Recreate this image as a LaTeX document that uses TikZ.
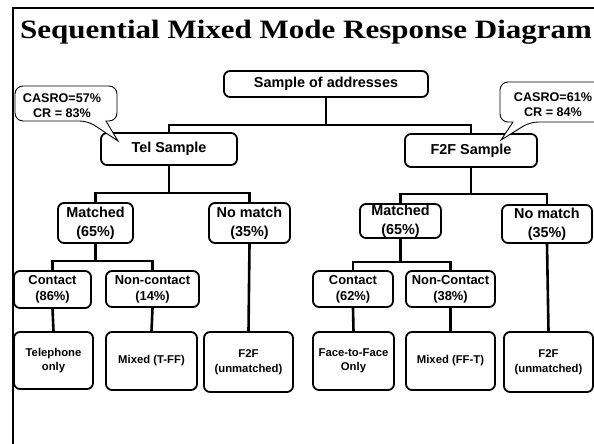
\documentclass[tikz,border=0pt]{standalone}
\usepackage{fontspec}
\setmainfont{Liberation Sans}
\newfontfamily\titlefont{Liberation Serif}
\usetikzlibrary{calc}
\begin{document}
\begin{tikzpicture}[x=1pt,y=-1pt,
  box/.style={draw, line width=1.8pt, rounded corners=6pt, fill=white, inner sep=0pt, align=center},
  fA/.style={font=\bfseries\fontsize{14.4}{19}\selectfont},
  fB/.style={font=\bfseries\fontsize{12.9}{16}\selectfont},
  fC/.style={font=\bfseries\fontsize{11.3}{14.5}\selectfont},
  conn/.style={line width=2.6pt},
  callout/.style={draw, line width=0.9pt, fill=white},
  calltext/.style={inner sep=0pt, align=center, font=\bfseries\fontsize{12.6}{15}\selectfont}]
\useasboundingbox (0,0) rectangle (594,444);
\clip (0,0) rectangle (594,444);
\fill[white] (0,0) rectangle (594,444);
% frame
\draw[line width=2pt] (13,450) -- (13,8) -- (600,8);
% title
\node[anchor=base west, inner sep=0pt] (T) at (20,39)
  {\titlefont\bfseries\fontsize{26.5}{30}\selectfont\scalebox{1.17}[1]{Sequential Mixed Mode Response Diagram}};
% bus levels
\coordinate (b1) at (0,125);
\coordinate (b2) at (0,193);
\coordinate (b3) at (0,194);
\coordinate (b4) at (0,261);
\coordinate (b5) at (0,262);
% boxes
\node[box, fA, minimum width=204, minimum height=26] (S) at (326,84) {Sample of addresses};
\node[box, fA, minimum width=136, minimum height=32] (Tel) at (169,149) {Tel Sample};
\node[box, fA, minimum width=132, minimum height=33] (F2F) at (471,150.5) {F2F Sample};
\node[box, fA, minimum width=75, minimum height=40] (TM) at (95.5,223) {Matched\\(65\%)};
\node[box, fA, minimum width=81, minimum height=40] (TN) at (249.5,223) {No match\\(35\%)};
\node[box, fB, minimum width=77, minimum height=37] (TC) at (52.5,289.5) {Contact\\(86\%)};
\node[box, fB, minimum width=93, minimum height=36] (TNC) at (152.5,289) {Non-contact\\(14\%)};
\node[box, fC, minimum width=79, minimum height=57] (TO) at (53.5,360.5) {Telephone\\only};
\node[box, fC, minimum width=91, minimum height=58] (TX) at (151.5,361) {Mixed (T-FF)};
\node[box, fC, minimum width=89, minimum height=60] (TU) at (248.5,362) {F2F\\(unmatched)};
\node[box, fA, minimum width=81, minimum height=34] (FM) at (400.5,221) {Matched\\(65\%)};
\node[box, fA, minimum width=90, minimum height=38] (FN) at (547,224) {No match\\(35\%)};
\node[box, fB, minimum width=80, minimum height=36] (FC) at (353,289) {Contact\\(62\%)};
\node[box, fB, minimum width=89, minimum height=36] (FNC) at (450.5,289) {Non-Contact\\(38\%)};
\node[box, fC, minimum width=81, minimum height=58] (FO) at (353.5,361) {Face-to-Face\\Only};
\node[box, fC, minimum width=89, minimum height=58] (FX) at (450.5,361) {Mixed (FF-T)};
\node[box, fC, minimum width=89, minimum height=60] (FU) at (548.5,362) {F2F\\(unmatched)};
% connectors
\draw[conn] (S.south) -- (S.south |- b1);
\draw[conn] (Tel.north) |- (S.south |- b1) -| (F2F.north);
\draw[conn] (Tel.south) -- (Tel.south |- b2);
\draw[conn] (TM.north) |- (Tel.south |- b2) -| (TN.north);
\draw[conn] (F2F.south) -- (F2F.south |- b3);
\draw[conn] (FM.north) |- (F2F.south |- b3) -| (FN.north);
\draw[conn] (TM.south) -- (TM.south |- b4);
\draw[conn] (TC.north) |- (TM.south |- b4) -| (TNC.north);
\draw[conn] (FM.south) -- (FM.south |- b5);
\draw[conn] (FC.north) |- (FM.south |- b5) -| (FNC.north);
\draw[conn] (TC.south) -- (TO.north);
\draw[conn] (TNC.south) -- (TX.north);
\draw[conn] (TN.south) -- (TU.north);
\draw[conn] (FC.south) -- (FO.north);
\draw[conn] (FNC.south) -- (FX.north);
\draw[conn] (FN.south) -- (FU.north);
% callouts
\draw[callout] (88,121) -- (118,141) -- (106,121) [rounded corners=8pt] -- (117,121) -- (117,86) -- (15,86) -- (15,121) -- cycle;
\node[calltext] (CL) at (62,105.5) {CASRO=57\%\\CR = 83\%};
\draw[callout] (530,122) -- (501,140) -- (513,122) [rounded corners=8pt] -- (500,122) -- (500,82) -- (612,82) -- (612,122) -- cycle;
\node[calltext] (CRt) at (553,105) {CASRO=61\%\\CR = 84\%};
\end{tikzpicture}
\end{document}
